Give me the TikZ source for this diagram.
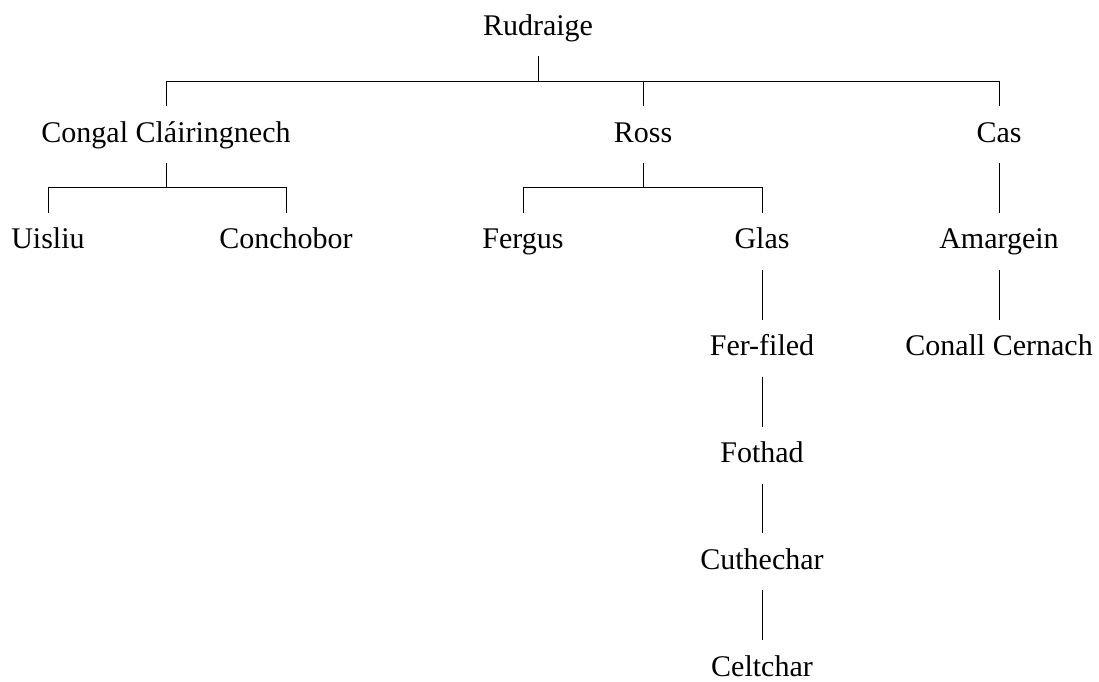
\documentclass[tikz,border=0pt]{standalone}
\usepackage{fontspec}
\setmainfont{Liberation Serif}
\begin{document}
\begin{tikzpicture}[x=1pt,y=-1pt,
  person/.style={anchor=base,inner sep=0pt,outer sep=0pt,
    text height=36pt,text depth=21pt,
    font=\fontsize{30}{36}\selectfont},
  link/.style={line width=1pt,black}]
\useasboundingbox (0,0) rectangle (1099,681);

% generation 0
\node[person] (rud) at (538,35) {Rudraige};
% generation 1
\node[person] (con) at (166,142) {Congal Cláiringnech};
\node[person] (ross) at (643,142) {Ross};
\node[person] (cas) at (999,142) {Cas};
% generation 2
\node[person] (uis) at (48,248.5) {Uisliu};
\node[person] (conch) at (286,248.5) {Conchobor};
\node[person] (ferg) at (523,248.5) {Fergus};
\node[person] (glas) at (762,248.5) {Glas};
\node[person] (amar) at (999,248.5) {Amargein};
% later generations
\node[person] (ferf) at (762,355.5) {Fer-filed};
\node[person] (conall) at (999,355.5) {Conall Cernach};
\node[person] (foth) at (762,462.5) {Fothad};
\node[person] (cuth) at (762,569) {Cuthechar};
\node[person] (celt) at (762,676) {Celtchar};

% forks
\draw[link] (rud.south) -- ++(0,25);
\draw[link] (con.north) -- ++(0,-25) -| (cas.north);
\draw[link] (ross.north) -- ++(0,-25);

\draw[link] (con.south) -- ++(0,25);
\draw[link] (uis.north) -- ++(0,-25) -| (conch.north);

\draw[link] (ross.south) -- ++(0,25);
\draw[link] (ferg.north) -- ++(0,-25) -| (glas.north);

% single lines of descent
\draw[link] (cas.south) -- (amar.north);
\draw[link] (amar.south) -- (conall.north);
\draw[link] (glas.south) -- (ferf.north);
\draw[link] (ferf.south) -- (foth.north);
\draw[link] (foth.south) -- (cuth.north);
\draw[link] (cuth.south) -- (celt.north);
\end{tikzpicture}
\end{document}
